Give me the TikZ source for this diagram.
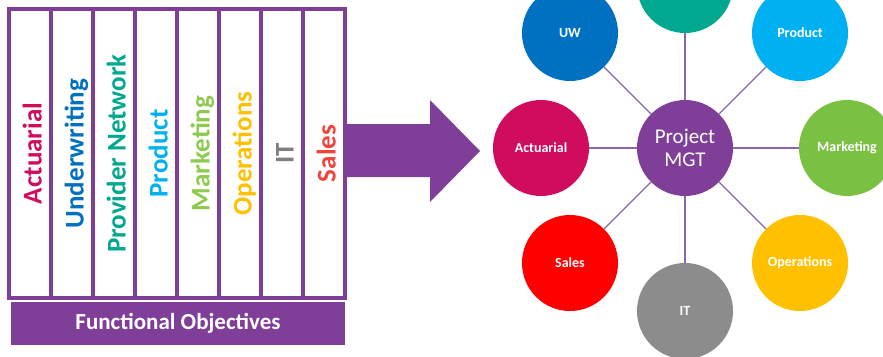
\documentclass[tikz,border=0pt]{standalone}
\usepackage{fontspec}
\setmainfont{Carlito}
\definecolor{pur}{HTML}{7F3F98}
\definecolor{edgec}{HTML}{8A64AE}
\definecolor{cAct}{HTML}{D00C5E}
\definecolor{cUW}{HTML}{0070C0}
\definecolor{cPN}{HTML}{00A88F}
\definecolor{cProd}{HTML}{00B0F0}
\definecolor{cMkt}{HTML}{7AC143}
\definecolor{cMktT}{HTML}{8DCB4E}
\definecolor{cOps}{HTML}{FFC000}
\definecolor{cIT}{HTML}{8C8C8C}
\definecolor{cITT}{HTML}{7F7F7F}
\definecolor{cSales}{HTML}{FF0000}
\definecolor{cSalesT}{HTML}{F0443A}
\begin{document}
\begin{tikzpicture}[x=1pt,y=-1pt,
  col/.style={draw=pur,line width=3.3pt,minimum width=42pt,minimum height=289pt,inner sep=0pt},
  coltext/.style={rotate=90,anchor=base,font=\bfseries\fontsize{27}{30}\selectfont,inner sep=0pt},
  circ/.style={circle,minimum size=96pt,inner sep=0pt,text=white,font=\bfseries\fontsize{14}{16}\selectfont},
  link/.style={draw=edgec,line width=1.1pt}]
\useasboundingbox (0,0) rectangle (883,356);
% columns
\foreach \i in {0,...,7}{
  \node[col] (c\i) at (30+42*\i,153.5) {};
}
\node[coltext,text=cAct] (t0) at (30+42*0+11.5,153.5) {Actuarial};
\node[coltext,text=cUW] (t1) at (30+42*1+11.5,153.5) {Underwriting};
\node[coltext,text=cPN] (t2) at (30+42*2+11.5,153.5) {Provider Network};
\node[coltext,text=cProd] (t3) at (30+42*3+11.5,153.5) {Product};
\node[coltext,text=cMktT] (t4) at (30+42*4+11.5,153.5) {Marketing};
\node[coltext,text=cOps] (t5) at (30+42*5+11.5,153.5) {Operations};
\node[coltext,text=cITT] (t6) at (30+42*6+11.5,153.5) {IT};
\node[coltext,text=cSalesT] (t7) at (30+42*7+11.5,153.5) {Sales};
% bottom bar
\node[fill=pur,minimum width=334pt,minimum height=43pt,inner sep=0pt,text=white,
  font=\bfseries\fontsize{23}{26}\selectfont] (fo) at (178,323.5) {Functional Objectives};
% arrow
\fill[pur] (345,124) -- (430,124) -- (430,100) -- (480,151) -- (430,202) -- (430,177) -- (345,177) -- cycle;
% circles
\node[circ,fill=pur,font=\fontsize{21}{23}\selectfont,align=center] (pm) at (685,148) {Project\\MGT};
\node[circ,fill=cPN] (pn) at (685,-15) {};
\node[circ,fill=cUW] (uw) at (570,33) {UW};
\node[circ,fill=cProd] (pr) at (800,33) {Product};
\node[circ,fill=cAct] (ac) at (541,148) {Actuarial};
\node[circ,fill=cMkt] (mk) at (847,148) {Marketing};
\node[circ,fill=cSales] (sa) at (570,263) {Sales};
\node[circ,fill=cIT] (it) at (685,311) {IT};
\node[circ,fill=cOps] (op) at (800,263) {Operations};
\foreach \n in {pn,uw,pr,ac,mk,sa,it,op}{
  \draw[link] (pm) -- (\n);
}
\end{tikzpicture}
\end{document}
